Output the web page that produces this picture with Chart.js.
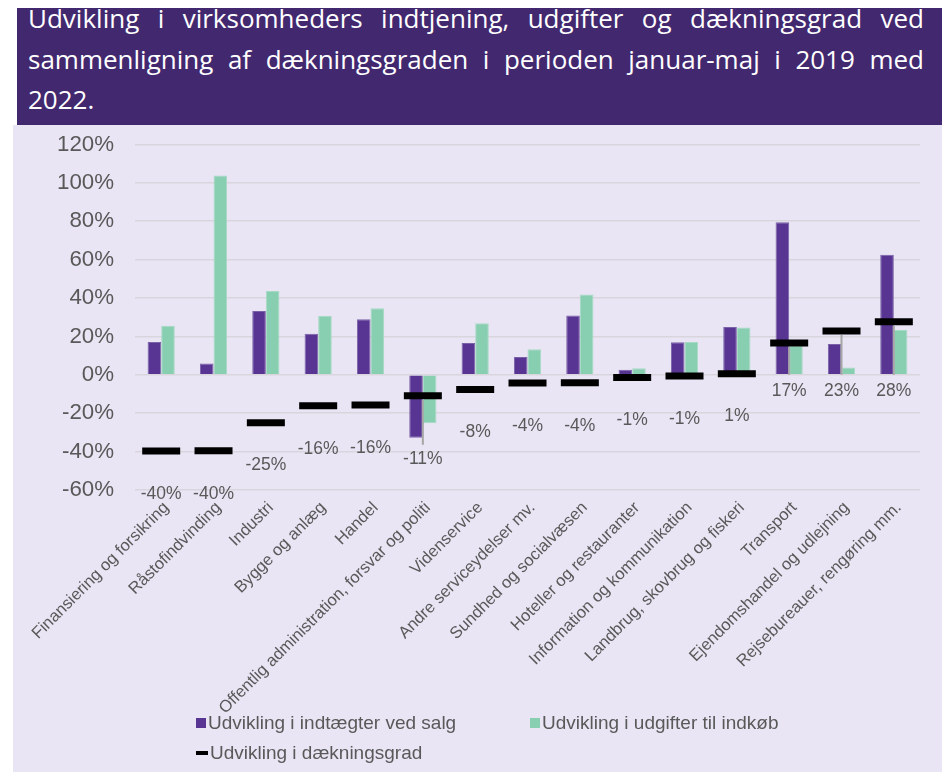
<!DOCTYPE html>
<html>
<head>
<meta charset="utf-8">
<script src="https://cdn.jsdelivr.net/npm/chart.js@4.4.1/dist/chart.umd.min.js"></script>
<style>
  html, body { margin: 0; padding: 0; background: #fff; overflow: hidden; width: 942px; height: 772px; }
  #panel { position: absolute; left: 13px; top: 125px; width: 940px; height: 660px; background: #E9E5F4; }
  #banner { position: absolute; left: 17px; top: 8px; width: 925px; height: 117px; background: #42286F; }
  #title { position: absolute; left: 11px; right: 18px; top: -10px; color: #fff;
    font-family: "Open Sans", sans-serif; font-size: 26px; line-height: 40.5px; }
  #title div { text-align: justify; text-align-last: justify; white-space: nowrap; }
  #title div.last { text-align-last: left; }
  #wrap { position: absolute; left: 13px; top: 110px; width: 933px; height: 608px; }
  #legend { position: absolute; left: 196px; top: 708px; display: grid; grid-template-columns: 334px auto;
    grid-auto-rows: 30px; font-family: "Liberation Sans", Arial, sans-serif; font-size: 19px; color: #595959; }
  #legend .item { display: flex; align-items: center; white-space: nowrap; }
  #legend .sym { display: inline-block; margin-right: 2px; }
</style>
</head>
<body>
<div id="panel"></div>
<div id="banner">
  <div id="title">
    <div>Udvikling i virksomheders indtjening, udgifter og dækningsgrad ved</div>
    <div>sammenligning af dækningsgraden i perioden januar-maj i 2019 med</div>
    <div class="last">2022.</div>
  </div>
</div>
<div id="wrap"><canvas id="chart"></canvas></div>
<div id="legend"></div>
<script>
const categories = [
  'Finansiering og forsikring', 'Råstofindvinding', 'Industri', 'Bygge og anlæg', 'Handel',
  'Offentlig administration, forsvar og politi', 'Videnservice', 'Andre serviceydelser mv.',
  'Sundhed og socialvæsen', 'Hoteller og restauranter', 'Information og kommunikation',
  'Landbrug, skovbrug og fiskeri', 'Transport', 'Ejendomshandel og udlejning', 'Rejsebureauer, rengøring mm.'
];
const revenue = [17.1, 5.9, 33.2, 21.4, 28.9, -32.8, 16.6, 9.3, 30.9, 2.6, 16.9, 24.9, 79.5, 16.1, 62.5];
const costs = [25.6, 103.8, 43.7, 30.7, 34.7, -25.2, 26.8, 13.3, 41.8, 3.4, 17.1, 24.7, 15, 3.8, 23.3];
const margin = [-39.7, -39.6, -24.9, -16.1, -15.7, -10.9, -7.6, -4.3, -4.1, -1.4, -0.6, 0.6, 16.6, 22.8, 27.6];
const yTickValues = [-60, -40, -20, 0, 20, 40, 60, 80, 100, 120];

const seriesNames = ['Udvikling i indtægter ved salg', 'Udvikling i udgifter til indkøb', 'Udvikling i dækningsgrad'];
const grey = '#595959';
const font = '"Liberation Sans", Arial, sans-serif';

// labels under the black markers, with grey leader lines where Excel moved them
const marginLabels = {
  id: 'marginLabels',
  afterDatasetsDraw(chart) {
    const meta = chart.getDatasetMeta(2);
    const y = chart.scales.y;
    const zeroY = y.getPixelForValue(0);
    const ctx = chart.ctx;
    ctx.save();
    ctx.font = '17.5px ' + font;
    ctx.fillStyle = grey;
    ctx.textAlign = 'center';
    ctx.textBaseline = 'middle';
    ctx.strokeStyle = '#A6A6A6';
    ctx.lineWidth = 2;
    meta.data.forEach((pt, i) => {
      const v = margin[i];
      const low = Math.min(revenue[i], costs[i]);
      let ly, lineTo = null;
      if (v > 5) {
        ly = zeroY + 16;
        lineTo = zeroY;
      } else if (low < 0 && low < v) {
        ly = y.getPixelForValue(low) + 21;
        lineTo = ly - 14;
      } else {
        ly = pt.y + 43;
      }
      if (lineTo !== null) {
        ctx.beginPath();
        ctx.moveTo(pt.x, pt.y + 4);
        ctx.lineTo(pt.x, lineTo);
        ctx.stroke();
      }
      ctx.fillText(Math.round(v) + '%', pt.x, ly);
    });
    ctx.restore();
  }
};

const chart = new Chart(document.getElementById('chart'), {
  type: 'bar',
  data: {
    labels: categories,
    datasets: [{
      label: seriesNames[0],
      data: revenue,
      backgroundColor: '#583593',
      borderColor: '#7A62A8',
      borderWidth: 1,
      categoryPercentage: 0.52,
      barPercentage: 1,
      order: 1
    }, {
      label: seriesNames[1],
      data: costs,
      backgroundColor: '#88CEB0',
      borderColor: '#A6DAC4',
      borderWidth: 1,
      categoryPercentage: 0.52,
      barPercentage: 1,
      order: 1
    }, {
      type: 'line',
      label: seriesNames[2],
      data: margin,
      showLine: false,
      pointStyle: 'line',
      pointRadius: 19,
      pointHoverRadius: 19,
      pointBorderWidth: 7,
      pointBorderColor: '#000',
      borderColor: '#000',
      backgroundColor: '#000',
      order: 0
    }]
  },
  options: {
    responsive: true,
    maintainAspectRatio: false,
    devicePixelRatio: 1,
    animation: false,
    layout: { padding: { left: 23, top: 0, right: 0, bottom: 0 } },
    plugins: {
      legend: { display: false },
      tooltip: { enabled: false }
    },
    scales: {
      x: {
        grid: { display: false },
        border: { display: false },
        // the long first label should not push the plot to the right
        afterFit: (axis) => { axis.paddingLeft = 0; },
        ticks: {
          autoSkip: false,
          maxRotation: 45,
          minRotation: 45,
          padding: 0,
          labelOffset: 5,
          color: grey,
          font: { family: font, size: 16.6 }
        }
      },
      y: {
        min: yTickValues[0],
        max: yTickValues[yTickValues.length - 1],
        afterBuildTicks: (axis) => { axis.ticks = yTickValues.map(v => ({ value: v })); },
        grid: { color: '#D9D5DD', lineWidth: 1.5, drawTicks: false },
        border: { display: false },
        ticks: {
          padding: 21,
          color: grey,
          font: { family: font, size: 22.3 },
          callback: (v) => v + '%'
        }
      }
    }
  },
  plugins: [marginLabels]
});

// legend laid out like the Excel one: two columns, the line series on its own row
const legend = document.getElementById('legend');
chart.data.datasets.forEach((ds) => {
  const item = document.createElement('div');
  item.className = 'item';
  const sym = document.createElement('span');
  sym.className = 'sym';
  if (ds.type === 'line') {
    sym.style.cssText = 'width:12px;height:3.5px;background:' + ds.pointBorderColor;
  } else {
    sym.style.cssText = 'width:10px;height:10px;background:' + ds.backgroundColor;
  }
  item.appendChild(sym);
  item.appendChild(document.createTextNode(ds.label));
  legend.appendChild(item);
});
</script>
</body>
</html>
